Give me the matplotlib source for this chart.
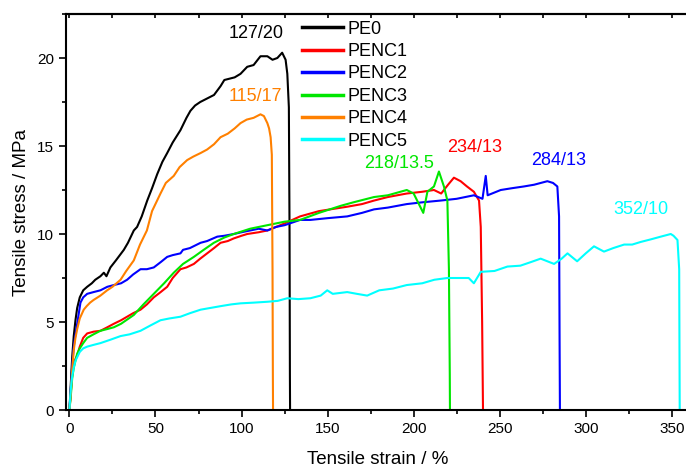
import matplotlib
matplotlib.use("Agg")
import matplotlib.pyplot as plt
from matplotlib.ticker import MultipleLocator

plt.rcParams['font.family'] = ['Liberation Sans', 'DejaVu Sans']

series_names = ["PE0", "PENC1", "PENC2", "PENC3", "PENC4", "PENC5"]
series_colors = ["#000000", "#ff0000", "#0000ff", "#00e600", "#ff8000", "#00ffff"]

pe0_strain = [0, 0.8, 1.6, 2.5, 3.5, 4.5, 6, 8, 10.3, 13, 15, 18, 20, 21.5, 23.8, 27, 31.6, 34, 37.4,
              39.3, 42, 45.2, 48, 51, 54, 56.8, 60, 64.5, 68, 70.3, 73, 76, 80, 84, 87.8, 90, 96, 99.4,
              103.3, 107, 111, 115, 118, 120.8, 123.6, 125.6, 126.6, 127.5, 127.9, 128.1, 128.2]
pe0_stress = [0, 1.5, 3.0, 4.2, 5.1, 5.8, 6.4, 6.8, 7.0, 7.2, 7.4, 7.6, 7.8, 7.6, 8.1, 8.5, 9.1, 9.5, 10.2,
              10.4, 11.0, 11.9, 12.6, 13.4, 14.1, 14.6, 15.2, 15.9, 16.6, 17.0, 17.3, 17.5, 17.7, 17.9, 18.4, 18.75, 18.9, 19.1,
              19.5, 19.6, 20.1, 20.1, 19.9, 20.0, 20.3, 19.9, 19.1, 17.2, 10.0, 2.0, 0]

penc1_strain = [0, 0.8, 1.6, 2.5, 3.5, 4.5, 6, 8, 10.3, 14, 18, 22, 25.8, 30, 33.5, 37, 41.3, 45, 49, 53,
                56.8, 60, 64.5, 68, 72.3, 76, 80, 84, 87.8, 92, 95.5, 100, 103.3, 110, 115, 125, 134, 145,
                161.4, 170, 177, 185, 196, 205, 211.8, 216, 220, 223.4, 227.3, 231, 235, 238, 239, 239.8,
                240.2, 240.3]
penc1_stress = [0, 1.0, 2.0, 2.6, 2.9, 3.1, 3.6, 4.1, 4.35, 4.45, 4.5, 4.7, 4.9, 5.1, 5.3, 5.5, 5.7, 6.0, 6.4, 6.7,
                7.0, 7.5, 8.0, 8.1, 8.3, 8.6, 8.9, 9.2, 9.5, 9.6, 9.75, 9.9, 10.0, 10.1, 10.2, 10.6, 11.0, 11.3,
                11.55, 11.7, 11.9, 12.1, 12.3, 12.4, 12.5, 12.3, 12.8, 13.2, 13.0, 12.7, 12.4, 11.9, 10.4, 5.0,
                1.0, 0]

penc2_strain = [0, 0.8, 1.6, 2.5, 3.5, 4.5, 6.4, 8, 10.3, 14, 18, 22, 25.8, 30, 33.5, 37, 41.3, 45, 49, 53,
                56.8, 60, 64.5, 66, 70, 76.2, 80, 85.9, 90, 95.5, 100, 105, 110, 115, 120, 125, 134, 140,
                150, 161.4, 170, 177, 185, 196, 205, 215.7, 225, 235, 240, 241.9, 243, 250.6, 257, 264, 270,
                277.7, 281, 283.5, 284.5, 284.8, 285]
penc2_stress = [0, 1.2, 2.5, 3.6, 4.3, 4.9, 6.1, 6.4, 6.6, 6.7, 6.8, 7.0, 7.1, 7.2, 7.4, 7.7, 8.0, 8.0, 8.1, 8.4,
                8.7, 8.8, 8.9, 9.1, 9.2, 9.5, 9.6, 9.85, 9.9, 10.0, 10.1, 10.2, 10.3, 10.2, 10.4, 10.5, 10.8, 10.8,
                10.9, 11.0, 11.2, 11.4, 11.5, 11.7, 11.8, 11.9, 12.0, 12.2, 12.0, 13.3, 12.2, 12.5, 12.6, 12.7, 12.8,
                13.0, 12.9, 12.7, 11.0, 4.0, 0]

penc3_strain = [0, 0.8, 1.6, 2.5, 3.5, 4.5, 6, 8, 10.3, 14, 18, 22, 25.8, 30, 37.4, 43, 49, 55, 60.6, 66,
                72.3, 78, 83.9, 90, 95.5, 105, 115, 125, 134, 145, 157.6, 165, 177, 185, 196, 200, 205.6, 208,
                211.8, 214.7, 217.6, 219.6, 220.5, 221, 221.1]
penc3_stress = [0, 0.8, 1.8, 2.4, 2.8, 3.2, 3.5, 3.8, 4.1, 4.3, 4.5, 4.6, 4.7, 4.9, 5.4, 6.0, 6.6, 7.2, 7.8, 8.3,
                8.7, 9.1, 9.5, 9.8, 10.0, 10.3, 10.5, 10.7, 10.8, 11.2, 11.6, 11.8, 12.1, 12.2, 12.5, 12.3, 11.2, 12.4,
                12.7, 13.55, 12.7, 11.9, 8.0, 2.0, 0]

penc4_strain = [0, 0.8, 1.6, 2.5, 3.5, 4.5, 6, 8.3, 10, 12, 14, 18, 21.9, 25, 29.7, 33, 37.4, 41, 45, 48,
                52.9, 56, 60.6, 64, 68.4, 72, 76.2, 80, 84, 87.8, 92, 96, 99.4, 103, 107, 111, 113, 115, 116,
                116.9, 117.6, 118.0, 118.2, 118.3]
penc4_stress = [0, 1.0, 2.3, 3.4, 4.1, 4.6, 5.2, 5.7, 5.9, 6.1, 6.25, 6.5, 6.8, 7.0, 7.4, 7.9, 8.5, 9.4, 10.2, 11.3,
                12.3, 12.9, 13.3, 13.8, 14.2, 14.4, 14.6, 14.8, 15.1, 15.5, 15.7, 16.0, 16.3, 16.5, 16.6, 16.8, 16.7,
                16.3, 16.0, 15.5, 14.5, 8.0, 2.0, 0]

penc5_strain = [0, 0.5, 1, 1.6, 2.5, 3.5, 4.5, 6, 8, 10.3, 14, 18, 24, 29.7, 35, 41.3, 47, 52.9, 58, 64.5,
                70, 76.2, 82, 87.8, 94, 99.4, 107, 115, 121, 126.6, 133, 140, 146, 149.8, 153, 161.4, 167, 173,
                180, 188, 196, 205, 212, 219.6, 227, 232, 235, 239, 247, 254.5, 262, 268, 273.8, 281.6, 286,
                289.4, 295, 300, 304.8, 310.6, 316, 322.3, 327, 332, 338, 343.6, 349.4, 351, 353.3, 354.3, 354.6]
penc5_stress = [0, 0.8, 1.4, 1.9, 2.4, 2.8, 3.0, 3.3, 3.5, 3.6, 3.7, 3.8, 4.0, 4.2, 4.3, 4.5, 4.8, 5.1, 5.2, 5.3,
                5.5, 5.7, 5.8, 5.9, 6.0, 6.06, 6.1, 6.15, 6.2, 6.35, 6.3, 6.35, 6.5, 6.8, 6.6, 6.7, 6.6, 6.5,
                6.8, 6.9, 7.1, 7.2, 7.4, 7.5, 7.5, 7.5, 7.2, 7.85, 7.9, 8.15, 8.2, 8.4, 8.6, 8.3, 8.6,
                8.9, 8.45, 8.9, 9.3, 9.0, 9.2, 9.4, 9.4, 9.55, 9.7, 9.85, 10.0, 9.9, 9.66, 8.0, 0]

annot_texts = ["127/20", "234/13", "284/13", "218/13.5", "115/17", "352/10"]

strains = [pe0_strain, penc1_strain, penc2_strain, penc3_strain, penc4_strain, penc5_strain]
stresses = [pe0_stress, penc1_stress, penc2_stress, penc3_stress, penc4_stress, penc5_stress]

fig = plt.figure(figsize=(6.86, 4.68), dpi=100)
ax = fig.add_axes([66 / 686, 58 / 468, 623 / 686, 396 / 468])

for s, st, c, n in zip(strains, stresses, series_colors, series_names):
    ax.plot(s, st, color=c, lw=1.5, label=n)

ax.set_xlim(-2, 360)
ax.set_ylim(0, 22.5)
ax.xaxis.set_major_locator(MultipleLocator(50))
ax.xaxis.set_minor_locator(MultipleLocator(25))
ax.yaxis.set_major_locator(MultipleLocator(5))
ax.yaxis.set_minor_locator(MultipleLocator(2.5))
ax.tick_params(which='major', direction='out', length=5, width=1.2, labelsize=11)
ax.tick_params(which='minor', direction='out', length=3, width=1.2)
for sp in ax.spines.values():
    sp.set_linewidth(1.5)

top = ax.secondary_xaxis('top')
top.xaxis.set_major_locator(MultipleLocator(25))
top.tick_params(direction='in', length=3, width=1.2, labeltop=False)
top.spines['top'].set_linewidth(1.5)

ax.set_xlabel("Tensile strain / %", fontsize=13.5, labelpad=11)
ax.set_ylabel("Tensile stress / MPa", fontsize=13.5, labelpad=5)

# annotation label positions (axes data coords of text centres)
label_pos = [(108.5, 21.4), (235.5, 14.9), (284.3, 14.2), (191.3, 14.0), (108, 17.8), (332, 11.4)]
label_cols = [series_colors[0], series_colors[1], series_colors[2], series_colors[3],
              series_colors[4], series_colors[5]]
for t, (x, y), c in zip(annot_texts, label_pos, label_cols):
    ax.text(x, y, t, color=c, fontsize=13, ha='center', va='center')

leg = ax.legend(loc='upper left', bbox_to_anchor=(298 / 686, 1 - 17 / 468), bbox_transform=fig.transFigure,
                frameon=False, fontsize=13, handlelength=2.3, handletextpad=0.25, labelspacing=0.3,
                borderpad=0.2, borderaxespad=0)
for l in leg.get_lines():
    l.set_linewidth(2.5)

fig.savefig("out.png", dpi=100)
